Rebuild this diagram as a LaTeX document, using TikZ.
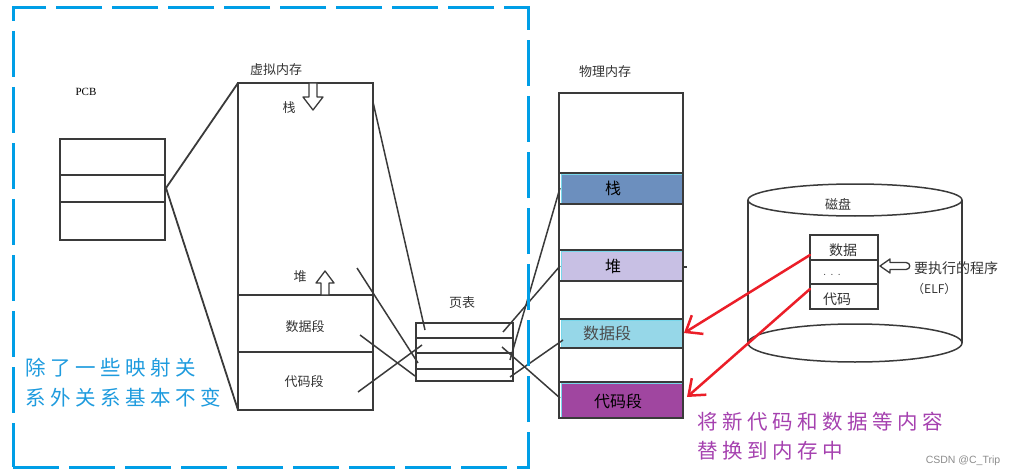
\documentclass[tikz,border=0pt]{standalone}
\usepackage{fontspec}
\newfontfamily\cjk{Noto Sans CJK SC}
\newfontfamily\cjkwide[LetterSpace=22]{Noto Sans CJK SC}
\newfontfamily\wmfont{Liberation Sans}
\newfontfamily\pcbfont{Liberation Serif}
\usetikzlibrary{arrows.meta}
\definecolor{dashblue}{RGB}{0,158,230}
\definecolor{txtblue}{RGB}{30,155,222}
\definecolor{txtpurple}{RGB}{165,65,175}
\definecolor{sketch}{RGB}{58,58,58}
\definecolor{stackc}{RGB}{108,143,190}
\definecolor{heapc}{RGB}{200,192,228}
\definecolor{datac}{RGB}{150,215,232}
\definecolor{codec}{RGB}{160,70,160}
\definecolor{segedge}{RGB}{120,215,235}
\definecolor{redarrow}{RGB}{235,30,40}
\begin{document}
\begin{tikzpicture}[x=1pt,y=-1pt,
  sk/.style={draw=sketch, line width=1.5pt},
  box/.style={draw=sketch, line width=1.5pt, inner sep=0pt, outer sep=0pt, anchor=north west},
  lbl/.style={font=\cjk\fontsize{13}{15}\selectfont, text=black!80, inner sep=0pt},
  plbl/.style={font=\cjk\fontsize{16}{18}\selectfont, inner sep=0pt},
  hollow/.style={draw=sketch, line width=1.3pt, fill=white, line join=round},
  seg/.style={draw=segedge, line width=0.6pt, inner sep=0pt, outer sep=0pt, anchor=north west, minimum width=121pt},
  redarr/.style={draw=redarrow, line width=2.5pt, line cap=round, -{Straight Barb[length=14pt,width=22pt,line width=2.5pt]}},
  bigblue/.style={font=\cjkwide\fontsize{20.5}{24}\selectfont, text=txtblue, anchor=west, inner sep=0pt},
  bigpurple/.style={font=\cjkwide\fontsize{20.5}{24}\selectfont, text=txtpurple, anchor=west, inner sep=0pt},
]
\useasboundingbox (0,0) rectangle (1017,476);

% ---------- PCB ----------
\node[font=\pcbfont\fontsize{11}{13}\selectfont, inner sep=0pt] (pcbl) at (86,92) {PCB};
\node[box, minimum width=105pt, minimum height=101pt] (pcb) at (60,139) {};
\draw[sk] (60,175) -- (165,175);
\draw[sk] (60,202) -- (165,202);
\coordinate (pcbtip) at (166,188);

% ---------- virtual memory ----------
\node[lbl] (vml) at (276,70) {虚拟内存};
\node[box, minimum width=135pt, minimum height=327pt] (vm) at (238,83) {};
\draw[sk] (238,295) -- (373,295);
\draw[sk] (238,352) -- (373,352);
\draw[sk, line width=1.8pt] (pcbtip) -- (vm.north west);
\draw[sk, line width=1.8pt] (pcbtip) -- (vm.south west);
\node[lbl] (vstack) at (289,108) {栈};
\draw[hollow] (309,83) -- (317,83) -- (317,97) -- (323,97) -- (313,110) -- (303,97) -- (309,97) -- cycle;
\node[lbl] (vheap) at (300,277) {堆};
\draw[hollow] (321,295) -- (329,295) -- (329,283) -- (334,283) -- (325,271) -- (316,283) -- (321,283) -- cycle;
\node[lbl] (vdata) at (305,327) {数据段};
\node[lbl] (vcode) at (304,382) {代码段};

% ---------- page table ----------
\node[lbl] (ptl) at (462,303) {页表};
\node[box, minimum width=97pt, minimum height=58pt] (pt) at (416,323) {};
\draw[sk] (416,338) -- (513,338);
\draw[sk] (416,353) -- (513,353);
\draw[sk] (416,369) -- (513,369);

\coordinate (vS) at (373,102);  \coordinate (tS) at (425,330);
\coordinate (vH) at (357,268);  \coordinate (tH) at (418,363);
\coordinate (vD) at (360,335);  \coordinate (tD) at (415,376);
\coordinate (vC) at (358,392);  \coordinate (tC) at (422,345);
\draw[sk] (vS) -- (tS);
\draw[sk] (vH) -- (tH);
\draw[sk] (vD) -- (tD);
\draw[sk] (vC) -- (tC);

% ---------- physical memory ----------
\node[lbl] (pml) at (605,72) {物理内存};
\node[seg, fill=stackc, minimum height=30pt] (pstack) at (561,174) {};
\node[seg, fill=heapc,  minimum height=30pt] (pheap)  at (561,251) {};
\node[seg, fill=datac,  minimum height=27pt] (pdata)  at (561,320) {};
\node[seg, fill=codec,  minimum height=34pt] (pcode)  at (561,383) {};
\node[box, minimum width=124pt, minimum height=325pt] (pm) at (559,93) {};
\foreach \yy in {173,204,250,281,319,348,382} \draw[sk] (559,\yy) -- (683,\yy);
\coordinate (stubA) at (683,267); \coordinate (stubB) at (687,267);
\draw[sk, line width=1.2pt] (stubA) -- (stubB);
\node[plbl] (tstack) at (613,188) {栈};
\node[plbl] (theap) at (613,266) {堆};
\node[plbl, text=black!70] (tdata) at (607,333) {数据段};
\node[plbl] (tcode) at (618,401) {代码段};

\coordinate (qS) at (510,360);  \coordinate (mS) at (560,188);
\coordinate (qH) at (503,332);  \coordinate (mH) at (560,266);
\coordinate (qD) at (510,377);  \coordinate (mD) at (563,340);
\coordinate (qC) at (502,347);  \coordinate (mC) at (560,398);
\draw[sk] (qS) -- (mS);
\draw[sk] (qH) -- (mH);
\draw[sk] (qD) -- (mD);
\draw[sk] (qC) -- (mC);

% ---------- disk ----------
\draw[sk] (748,200) -- (748,343);
\draw[sk] (962,200) -- (962,343);
\draw[sk] (855,200) ellipse [x radius=107pt, y radius=16pt];
\draw[sk] (855,343) ellipse [x radius=107pt, y radius=19pt];
\node[lbl] (diskl) at (838,204) {磁盘};
\node[box, fill=white, minimum width=68pt, minimum height=74pt] (prog) at (810,235) {};
\draw[sk] (810,260) -- (878,260);
\draw[sk] (810,284) -- (878,284);
\node[lbl, font=\cjk\fontsize{14}{16}\selectfont] (fdata) at (843,250) {数据};
\node[lbl, font=\rmfamily\fontsize{12}{14}\selectfont] (fdots) at (832,275) {.\,\,.\,\,.};
\node[lbl, font=\cjk\fontsize{14}{16}\selectfont] (fcode) at (837,299) {代码};
\draw[hollow] (880,266) -- (890,259) -- (890,262.5) -- (906,262.5) .. controls (911,262.5) and (911,269.5) .. (906,269.5) -- (890,269.5) -- (890,273) -- cycle;
\node[lbl, anchor=west, font=\cjk\fontsize{14}{16}\selectfont] (exec) at (914,268) {要执行的程序};
\node[lbl, anchor=west, font=\cjk\fontsize{12}{14}\selectfont] (elf) at (912,289) {（ELF）};

% ---------- red arrows ----------
\coordinate (rD) at (810,255);  \coordinate (rDt) at (684,333);
\coordinate (rC) at (810,289);  \coordinate (rCt) at (687,397);
\draw[redarr] (rD) -- (rDt);
\draw[redarr] (rC) -- (rCt);

% ---------- annotations ----------
\node[bigblue] (b1) at (25,368) {除了一些映射关};
\node[bigblue] (b2) at (25,398) {系外关系基本不变};
\node[bigpurple] (p1) at (697,422) {将新代码和数据等内容};
\node[bigpurple] (p2) at (697,451) {替换到内存中};
\node[font=\wmfont\fontsize{10.5}{12}\selectfont, text=black!45, inner sep=0pt] (wm) at (963,461) {CSDN @C\_Trip};

% ---------- dashed frame ----------
\node[draw=dashblue, line width=3pt, dash pattern=on 46pt off 10pt, inner sep=0pt, outer sep=0pt, anchor=north west, minimum width=515pt, minimum height=459pt] (frame) at (13,8) {};
\end{tikzpicture}
\end{document}
